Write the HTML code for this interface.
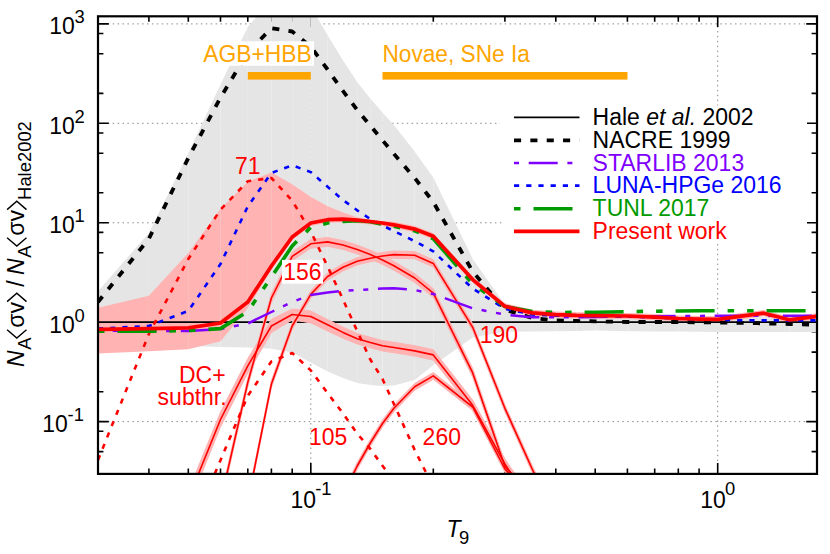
<!DOCTYPE html>
<html><head><meta charset="utf-8"><title>Rate ratio</title>
<style>html,body{margin:0;padding:0;background:#fff}svg{display:block}text{font-family:"Liberation Sans",sans-serif;}</style></head><body>
<svg width="830" height="554" viewBox="0 0 830 554">
<rect width="830" height="554" fill="#fff"/>
<defs><clipPath id="c"><rect x="98.0" y="16.3" width="719.0" height="457.6"/></clipPath></defs>
<g stroke="#8c8c8c" stroke-width="1" stroke-dasharray="1.5,3.4" fill="none">
<path d="M98.0,23.9 H817.0"/>
<path d="M98.0,123.3 H500"/>
<path d="M98.0,222.8 H817.0"/>
<path d="M98.0,421.6 H817.0"/>
<path d="M310.8,16.3 V473.9"/>
<path d="M717.7,16.3 V106"/>
<path d="M717.7,244 V473.9"/>
</g>
<g stroke="#000" stroke-width="1.6" fill="none">
<path d="M98.0,451.6 h5.4 M817.0,451.6 h-5.4"/>
<path d="M98.0,431.3 h5.4 M817.0,431.3 h-5.4"/>
<path d="M98.0,421.6 h10.8 M817.0,421.6 h-10.8"/>
<path d="M98.0,391.7 h5.4 M817.0,391.7 h-5.4"/>
<path d="M98.0,352.1 h5.4 M817.0,352.1 h-5.4"/>
<path d="M98.0,331.8 h5.4 M817.0,331.8 h-5.4"/>
<path d="M98.0,322.2 h10.8 M817.0,322.2 h-10.8"/>
<path d="M98.0,292.3 h5.4 M817.0,292.3 h-5.4"/>
<path d="M98.0,252.7 h5.4 M817.0,252.7 h-5.4"/>
<path d="M98.0,232.4 h5.4 M817.0,232.4 h-5.4"/>
<path d="M98.0,222.8 h10.8 M817.0,222.8 h-10.8"/>
<path d="M98.0,192.8 h5.4 M817.0,192.8 h-5.4"/>
<path d="M98.0,153.3 h5.4 M817.0,153.3 h-5.4"/>
<path d="M98.0,133.0 h5.4 M817.0,133.0 h-5.4"/>
<path d="M98.0,123.3 h10.8 M817.0,123.3 h-10.8"/>
<path d="M98.0,93.4 h5.4 M817.0,93.4 h-5.4"/>
<path d="M98.0,53.8 h5.4 M817.0,53.8 h-5.4"/>
<path d="M98.0,33.5 h5.4 M817.0,33.5 h-5.4"/>
<path d="M98.0,23.9 h10.8 M817.0,23.9 h-10.8"/>
<path d="M148.9,473.9 v-5.4 M148.9,16.3 v5.4"/>
<path d="M188.3,473.9 v-5.4 M188.3,16.3 v5.4"/>
<path d="M220.5,473.9 v-5.4 M220.5,16.3 v5.4"/>
<path d="M247.8,473.9 v-5.4 M247.8,16.3 v5.4"/>
<path d="M271.4,473.9 v-5.4 M271.4,16.3 v5.4"/>
<path d="M292.2,473.9 v-5.4 M292.2,16.3 v5.4"/>
<path d="M310.8,473.9 v-10.8 M310.8,16.3 v10.8"/>
<path d="M433.3,473.9 v-5.4 M433.3,16.3 v5.4"/>
<path d="M504.9,473.9 v-5.4 M504.9,16.3 v5.4"/>
<path d="M555.8,473.9 v-5.4 M555.8,16.3 v5.4"/>
<path d="M595.2,473.9 v-5.4 M595.2,16.3 v5.4"/>
<path d="M627.4,473.9 v-5.4 M627.4,16.3 v5.4"/>
<path d="M654.7,473.9 v-5.4 M654.7,16.3 v5.4"/>
<path d="M678.3,473.9 v-5.4 M678.3,16.3 v5.4"/>
<path d="M699.1,473.9 v-5.4 M699.1,16.3 v5.4"/>
<path d="M717.7,473.9 v-10.8 M717.7,16.3 v10.8"/>
</g>
<g clip-path="url(#c)">
<path d="M98.04,291.2 L148.88,233.0 L148.88,346.0 L98.04,346.0 Z" fill="#e5e5e5"/>
<path d="M148.88,233.0 L188.31,153.0 L188.31,346.0 L148.88,346.0 Z" fill="#e5e5e5"/>
<path d="M188.31,153.0 L220.53,84.5 L220.53,347.0 L188.31,346.0 Z" fill="#e5e5e5"/>
<path d="M220.53,84.5 L247.77,27.0 L247.77,347.5 L220.53,347.0 Z" fill="#e5e5e5"/>
<path d="M247.77,27.0 L271.37,0.0 L271.37,348.8 L247.77,347.5 Z" fill="#e5e5e5"/>
<path d="M271.37,0.0 L292.18,-5.0 L292.18,352.6 L271.37,348.8 Z" fill="#e5e5e5"/>
<path d="M292.18,-5.0 L310.80,6.4 L310.80,362.5 L292.18,352.6 Z" fill="#e5e5e5"/>
<path d="M310.80,6.4 L327.64,35.3 L327.64,371.5 L310.80,362.5 Z" fill="#e5e5e5"/>
<path d="M327.64,35.3 L343.02,60.6 L343.02,378.0 L327.64,371.5 Z" fill="#e5e5e5"/>
<path d="M343.02,60.6 L357.16,82.0 L357.16,383.0 L343.02,378.0 Z" fill="#e5e5e5"/>
<path d="M357.16,82.0 L370.26,98.6 L370.26,385.0 L357.16,383.0 Z" fill="#e5e5e5"/>
<path d="M370.26,98.6 L382.45,112.5 L382.45,386.0 L370.26,385.0 Z" fill="#e5e5e5"/>
<path d="M382.45,112.5 L393.86,125.0 L393.86,385.5 L382.45,386.0 Z" fill="#e5e5e5"/>
<path d="M393.86,125.0 L414.67,151.5 L414.67,380.0 L393.86,385.5 Z" fill="#e5e5e5"/>
<path d="M414.67,151.5 L433.29,177.4 L433.29,365.3 L414.67,380.0 Z" fill="#e5e5e5"/>
<path d="M433.29,177.4 L472.72,259.0 L472.72,337.4 L433.29,365.3 Z" fill="#e5e5e5"/>
<path d="M472.72,259.0 L504.94,304.5 L504.94,331.6 L472.72,337.4 Z" fill="#e5e5e5"/>
<path d="M504.94,304.5 L532.18,313.0 L532.18,331.6 L504.94,331.6 Z" fill="#e5e5e5"/>
<path d="M532.18,313.0 L555.78,316.0 L555.78,331.2 L532.18,331.6 Z" fill="#e5e5e5"/>
<path d="M555.78,316.0 L576.59,317.0 L576.59,331.0 L555.78,331.2 Z" fill="#e5e5e5"/>
<path d="M576.59,317.0 L595.21,317.0 L595.21,330.6 L576.59,331.0 Z" fill="#e5e5e5"/>
<path d="M595.21,317.0 L627.43,317.0 L627.43,331.2 L595.21,330.6 Z" fill="#e5e5e5"/>
<path d="M627.43,317.0 L654.67,317.0 L654.67,331.5 L627.43,331.2 Z" fill="#e5e5e5"/>
<path d="M654.67,317.0 L678.27,317.0 L678.27,331.6 L654.67,331.5 Z" fill="#e5e5e5"/>
<path d="M678.27,317.0 L699.08,317.0 L699.08,331.8 L678.27,331.6 Z" fill="#e5e5e5"/>
<path d="M699.08,317.0 L717.70,317.0 L717.70,331.9 L699.08,331.8 Z" fill="#e5e5e5"/>
<path d="M717.70,317.0 L757.13,317.0 L757.13,332.0 L717.70,331.9 Z" fill="#e5e5e5"/>
<path d="M757.13,317.0 L789.35,317.0 L789.35,332.0 L757.13,332.0 Z" fill="#e5e5e5"/>
<path d="M789.35,317.0 L816.59,317.0 L816.59,332.0 L789.35,332.0 Z" fill="#e5e5e5"/>
<path d="M98.04,307.8 L148.88,295.7 L148.88,351.3 L98.04,353.4 Z" fill="#ffb3b3"/>
<path d="M148.88,295.7 L188.31,253.0 L188.31,349.3 L148.88,351.3 Z" fill="#ffb3b3"/>
<path d="M188.31,253.0 L220.53,208.8 L220.53,341.2 L188.31,349.3 Z" fill="#ffb3b3"/>
<path d="M220.53,208.8 L247.77,181.7 L247.77,308.0 L220.53,341.2 Z" fill="#ffb3b3"/>
<path d="M247.77,181.7 L271.37,172.4 L271.37,270.0 L247.77,308.0 Z" fill="#ffb3b3"/>
<path d="M271.37,172.4 L292.18,184.3 L292.18,240.0 L271.37,270.0 Z" fill="#ffb3b3"/>
<path d="M292.18,184.3 L310.80,197.0 L310.80,226.0 L292.18,240.0 Z" fill="#ffb3b3"/>
<path d="M310.80,197.0 L327.64,206.3 L327.64,222.8 L310.80,226.0 Z" fill="#ffb3b3"/>
<path d="M327.64,206.3 L343.02,212.6 L343.02,222.3 L327.64,222.8 Z" fill="#ffb3b3"/>
<path d="M343.02,212.6 L357.16,217.2 L357.16,223.3 L343.02,222.3 Z" fill="#ffb3b3"/>
<path d="M357.16,217.2 L370.26,219.7 L370.26,224.6 L357.16,223.3 Z" fill="#ffb3b3"/>
<path d="M370.26,219.7 L382.45,221.3 L382.45,226.1 L370.26,224.6 Z" fill="#ffb3b3"/>
<path d="M382.45,221.3 L393.86,221.7 L393.86,227.9 L382.45,226.1 Z" fill="#ffb3b3"/>
<path d="M393.86,221.7 L414.67,226.0 L414.67,232.2 L393.86,227.9 Z" fill="#ffb3b3"/>
<path d="M414.67,226.0 L433.29,233.1 L433.29,239.3 L414.67,232.2 Z" fill="#ffb3b3"/>
<path d="M433.29,233.1 L472.72,276.5 L472.72,282.7 L433.29,239.3 Z" fill="#ffb3b3"/>
<path d="M472.72,276.5 L504.94,303.2 L504.94,309.4 L472.72,282.7 Z" fill="#ffb3b3"/>
<path d="M504.94,303.2 L532.18,309.8 L532.18,316.0 L504.94,309.4 Z" fill="#ffb3b3"/>
<path d="M532.18,309.8 L555.78,311.5 L555.78,317.7 L532.18,316.0 Z" fill="#ffb3b3"/>
<path d="M555.78,311.5 L576.59,312.3 L576.59,318.5 L555.78,317.7 Z" fill="#ffb3b3"/>
<path d="M576.59,312.3 L595.21,312.5 L595.21,318.7 L576.59,318.5 Z" fill="#ffb3b3"/>
<path d="M595.21,312.5 L627.43,312.9 L627.43,319.1 L595.21,318.7 Z" fill="#ffb3b3"/>
<path d="M627.43,312.9 L654.67,314.0 L654.67,320.2 L627.43,319.1 Z" fill="#ffb3b3"/>
<path d="M654.67,314.0 L678.27,315.4 L678.27,321.6 L654.67,320.2 Z" fill="#ffb3b3"/>
<path d="M678.27,315.4 L699.08,316.0 L699.08,322.2 L678.27,321.6 Z" fill="#ffb3b3"/>
<path d="M699.08,316.0 L717.70,316.2 L717.70,322.4 L699.08,322.2 Z" fill="#ffb3b3"/>
<path d="M717.70,316.2 L763.66,310.1 L763.66,316.3 L717.70,322.4 Z" fill="#ffb3b3"/>
<path d="M763.66,310.1 L789.35,316.7 L789.35,322.9 L763.66,316.3 Z" fill="#ffb3b3"/>
<path d="M789.35,316.7 L816.59,313.2 L816.59,319.4 L789.35,322.9 Z" fill="#ffb3b3"/>
</g>
<g clip-path="url(#c)" fill="none" stroke-linejoin="round">
<path d="M98.0,322.2 H817.0" stroke="#000" stroke-width="1.8"/>
<path d="M188.3,491.2 L220.5,412.1 L247.8,358.6 L271.4,319.4 L292.2,309.1 L310.8,311.1 L327.6,319.6 L343.0,327.2 L357.2,333.5 L370.3,337.3 L382.5,340.6 L393.9,342.3 L414.7,345.7 L433.3,349.7 L472.7,400.1 L504.9,458.8 L532.2,499.8 L532.2,510.2 L504.9,469.2 L472.7,410.5 L433.3,360.1 L414.7,356.1 L393.9,352.7 L382.5,351.0 L370.3,347.7 L357.2,343.9 L343.0,338.2 L327.6,331.0 L310.8,322.9 L292.2,319.9 L271.4,332.6 L247.8,373.0 L220.5,426.9 L188.3,506.8Z" fill="#ffb3b3" stroke="#ffb3b3" stroke-width="1.0"/>
<path d="M220.5,497.6 L247.8,378.0 L271.4,293.6 L292.2,252.0 L310.8,239.4 L327.6,237.5 L343.0,240.6 L357.2,245.1 L370.3,250.1 L382.5,255.6 L393.9,261.4 L414.7,273.6 L433.3,288.7 L472.7,368.5 L504.9,462.1 L532.2,491.6 L532.2,500.4 L504.9,470.9 L472.7,377.3 L433.3,297.5 L414.7,282.4 L393.9,270.2 L382.5,264.4 L370.3,258.9 L357.2,253.9 L343.0,249.4 L327.6,246.3 L310.8,248.2 L292.2,260.8 L271.4,302.4 L247.8,386.8 L220.5,506.4Z" fill="#ffb3b3" stroke="#ffb3b3" stroke-width="1.0"/>
<path d="M247.8,497.9 L271.4,380.4 L292.2,322.4 L310.8,290.8 L327.6,272.9 L343.0,263.7 L357.2,257.7 L370.3,254.6 L382.5,252.4 L393.9,251.0 L414.7,251.6 L433.3,259.8 L472.7,323.7 L504.9,404.7 L532.2,465.4 L555.8,516.4 L555.8,523.6 L532.2,472.6 L504.9,411.9 L472.7,330.9 L433.3,267.0 L414.7,258.8 L393.9,258.2 L382.5,259.6 L370.3,261.8 L357.2,264.9 L343.0,270.9 L327.6,280.1 L310.8,298.0 L292.2,329.6 L271.4,387.6 L247.8,505.1Z" fill="#ffb3b3" stroke="#ffb3b3" stroke-width="1.0"/>
<path d="M343.0,491.6 L357.2,462.6 L370.3,439.6 L382.5,420.1 L393.9,404.9 L414.7,383.4 L433.3,372.5 L472.7,403.6 L504.9,465.6 L532.2,496.6 L532.2,503.4 L504.9,472.4 L472.7,410.4 L433.3,379.3 L414.7,390.2 L393.9,411.7 L382.5,426.9 L370.3,446.4 L357.2,469.4 L343.0,498.4Z" fill="#ffb3b3" stroke="#ffb3b3" stroke-width="1.0"/>
<path d="M188.3,499.0 L220.5,419.5 L247.8,365.8 L271.4,326.0 L292.2,314.5 L310.8,316.5 L327.6,324.8 L343.0,332.4 L357.2,338.7 L370.3,342.5 L382.5,345.8 L393.9,347.5 L414.7,350.9 L433.3,354.9 L472.7,405.3 L504.9,464.0 L532.2,505.0" stroke="#f00" stroke-width="1.6"/>
<path d="M220.5,502.0 L247.8,382.4 L271.4,298.0 L292.2,256.4 L310.8,243.8 L327.6,241.9 L343.0,245.0 L357.2,249.5 L370.3,254.5 L382.5,260.0 L393.9,265.8 L414.7,278.0 L433.3,293.1 L472.7,372.9 L504.9,466.5 L532.2,496.0" stroke="#f00" stroke-width="1.6"/>
<path d="M247.8,501.5 L271.4,384.0 L292.2,326.0 L310.8,294.4 L327.6,276.5 L343.0,267.3 L357.2,261.3 L370.3,258.2 L382.5,256.0 L393.9,254.6 L414.7,255.2 L433.3,263.4 L472.7,327.3 L504.9,408.3 L532.2,469.0 L555.8,520.0" stroke="#f00" stroke-width="1.6"/>
<path d="M343.0,495.0 L357.2,466.0 L370.3,443.0 L382.5,423.5 L393.9,408.3 L414.7,386.8 L433.3,375.9 L472.7,407.0 L504.9,469.0 L532.2,500.0" stroke="#f00" stroke-width="1.6"/>
<path d="M98.0,460.0 L148.9,334.0 L188.3,259.0 L220.5,209.6 L247.8,181.2 L271.4,178.0 L292.2,200.7 L310.8,231.6 L327.6,266.5 L343.0,299.5 L357.2,331.0 L370.3,359.5 L382.5,379.0 L393.9,404.0 L414.7,450.0 L433.3,487.0" stroke="#f00" stroke-width="2.6" stroke-dasharray="5.2,7.0" stroke-dashoffset="0.0"/>
<path d="M188.3,537.0 L220.5,460.2 L247.8,395.7 L271.4,361.5 L292.2,353.0 L310.8,370.4 L327.6,393.1 L343.0,413.4 L357.2,433.6 L370.3,448.8 L382.5,465.8 L393.9,481.0" stroke="#f00" stroke-width="2.6" stroke-dasharray="5.2,7.0" stroke-dashoffset="4.7"/>
<path d="M98.0,302.0 L148.9,238.7 L188.3,158.0 L220.5,97.6 L247.8,52.5 L271.4,28.2 L292.2,31.5 L310.8,46.7 L327.6,69.5 L343.0,91.0 L357.2,110.0 L370.3,125.6 L382.5,140.3 L393.9,153.9 L414.7,178.0 L433.3,202.0 L472.7,271.6 L504.9,309.6 L532.2,318.0 L555.8,320.5 L576.6,321.0 L595.2,321.3 L627.4,322.0 L654.7,322.0 L678.3,322.0 L699.1,322.3 L717.7,322.5 L757.1,323.2 L789.4,324.0 L816.6,324.8" stroke="#000" stroke-width="3.8" stroke-dasharray="7.1,9.25"/>
<path d="M98.0,330.6 L148.9,331.0 L188.3,331.0 L220.5,329.0 L247.8,323.5 L271.4,312.0 L292.2,302.0 L310.8,295.0 L327.6,292.4 L343.0,291.0 L357.2,290.0 L370.3,289.3 L382.5,288.6 L393.9,288.2 L414.7,290.0 L433.3,294.0 L472.7,308.3 L504.9,314.6 L532.2,317.2 L555.8,317.3 L576.6,317.2 L595.2,317.0 L627.4,316.5 L654.7,316.2 L678.3,316.0 L699.1,315.9 L717.7,315.8 L757.1,315.8 L789.4,315.8 L816.6,315.8" stroke="#8000ff" stroke-width="2.5" stroke-dasharray="29,9.7,5,9.7,5,9.7" stroke-dashoffset="53.4"/>
<path d="M98.0,328.6 L148.9,326.0 L188.3,310.9 L220.5,264.0 L247.8,206.3 L271.4,172.9 L292.2,165.3 L310.8,172.1 L327.6,186.8 L343.0,200.0 L357.2,210.3 L370.3,219.0 L382.5,225.5 L393.9,231.0 L414.7,241.2 L433.3,251.4 L472.7,288.6 L504.9,308.8 L532.2,314.5 L555.8,315.6 L576.6,316.0 L595.2,316.2 L627.4,316.5 L654.7,317.5 L678.3,318.8 L699.1,319.4 L717.7,319.8 L757.1,320.4 L789.4,320.4 L816.6,320.4" stroke="#00f" stroke-width="2.6" stroke-dasharray="5.2,7.0"/>
<path d="M98.0,331.3 L148.9,331.3 L188.3,330.6 L220.5,328.6 L247.8,311.5 L271.4,277.0 L292.2,246.0 L310.8,227.3 L327.6,223.0 L343.0,221.5 L357.2,220.7 L370.3,221.7 L382.5,224.2 L393.9,226.3 L414.7,230.8 L433.3,238.7 L472.7,284.0 L504.9,306.5 L532.2,311.5 L555.8,312.5 L576.6,312.4 L595.2,312.3 L627.4,311.6 L654.7,311.2 L678.3,311.0 L699.1,310.8 L717.7,310.7 L757.1,310.7 L789.4,310.7 L816.6,310.7" stroke="#009b00" stroke-width="3.6" stroke-dasharray="39,13,6.5,13,6.5,13" stroke-dashoffset="71.5"/>
<path d="M98.0,329.3 L148.9,328.6 L188.3,327.8 L220.5,323.0 L247.8,302.0 L271.4,266.0 L292.2,237.0 L310.8,223.0 L327.6,219.7 L343.0,219.2 L357.2,220.2 L370.3,221.5 L382.5,223.0 L393.9,224.8 L414.7,229.1 L433.3,236.2 L472.7,279.6 L504.9,306.3 L532.2,312.9 L555.8,314.6 L576.6,315.4 L595.2,315.6 L627.4,316.0 L654.7,317.1 L678.3,318.5 L699.1,319.1 L717.7,319.3 L763.7,313.2 L789.4,319.8 L816.6,316.3" stroke="#f00" stroke-width="3.7"/>
</g>
<rect x="203" y="41.3" width="111" height="24.4" fill="#fff"/>
<rect x="247.8" y="72" width="63.0" height="7.6" fill="#ffa500"/>
<rect x="382.5" y="72" width="245.0" height="7.6" fill="#ffa500"/>
<text transform="translate(203.3,62.2) scale(0.985,1)" font-size="23.19" fill="#ffa500">AGB+HBB</text>
<text transform="translate(382.4,62.2) scale(0.985,1)" font-size="23.04" fill="#ffa500">Novae, SNe Ia</text>
<rect x="503" y="105.5" width="304" height="138" fill="#fff"/>
<g fill="none">
<path d="M514,117.4 H579.5" stroke="#000" stroke-width="1.8"/>
<path d="M514,140.3 H579.5" stroke="#000" stroke-width="3.8" stroke-dasharray="7.1,9.25"/>
<path d="M514,163.0 H579.5" stroke="#8000ff" stroke-width="2.5" stroke-dasharray="29,9.7,5,9.7,5,9.7" stroke-dashoffset="53.4"/>
<path d="M514,185.6 H579.5" stroke="#00f" stroke-width="2.6" stroke-dasharray="5.2,7.0"/>
<path d="M514,208.7 H579.5" stroke="#009b00" stroke-width="3.6" stroke-dasharray="39,13,6.5,13,6.5,13" stroke-dashoffset="71.5"/>
<path d="M514,231.4 H579.5" stroke="#f00" stroke-width="3.7"/>
</g>
<text transform="translate(592.6,125.2) scale(0.985,1)" font-size="23.34" fill="#000">Hale <tspan font-style="italic">et al.</tspan> 2002</text>
<text transform="translate(592.6,148.1) scale(0.985,1)" font-size="23.34" fill="#000">NACRE 1999</text>
<text transform="translate(592.6,170.6) scale(0.985,1)" font-size="23.34" fill="#8000ff">STARLIB 2013</text>
<text transform="translate(592.6,193.2) scale(0.985,1)" font-size="23.34" fill="#00f">LUNA-HPGe 2016</text>
<text transform="translate(592.6,216.1) scale(0.985,1)" font-size="23.34" fill="#009b00">TUNL 2017</text>
<text transform="translate(592.6,238.8) scale(0.985,1)" font-size="23.34" fill="#f00">Present work</text>
<rect x="282" y="259.9" width="41" height="23.8" fill="#fff"/>
<text transform="translate(234.9,174.2) scale(0.985,1)" font-size="23.34" fill="#f00" text-anchor="start">71</text>
<text transform="translate(283.2,279.9) scale(0.985,1)" font-size="23.34" fill="#f00" text-anchor="start">156</text>
<text transform="translate(479.8,343.3) scale(0.985,1)" font-size="23.34" fill="#f00" text-anchor="start">190</text>
<text transform="translate(308.9,445.3) scale(0.985,1)" font-size="23.34" fill="#f00" text-anchor="start">105</text>
<text transform="translate(422.6,445.3) scale(0.985,1)" font-size="23.34" fill="#f00" text-anchor="start">260</text>
<text transform="translate(225.6,383.0) scale(0.985,1)" font-size="23.34" fill="#f00" text-anchor="end">DC+</text>
<text transform="translate(226.6,404.5) scale(0.985,1)" font-size="23.34" fill="#f00" text-anchor="end">subthr.</text>
<g stroke="#000" stroke-width="2.2" fill="none">
<rect x="98.0" y="16.3" width="719.0" height="457.6"/>
</g>
<text transform="translate(74.9,34.4) scale(0.985,1)" font-size="23.34" text-anchor="end">10</text>
<text transform="translate(74.6,23.2) scale(0.985,1)" font-size="18.68">3</text>
<text transform="translate(74.9,133.8) scale(0.985,1)" font-size="23.34" text-anchor="end">10</text>
<text transform="translate(74.6,122.6) scale(0.985,1)" font-size="18.68">2</text>
<text transform="translate(74.9,233.3) scale(0.985,1)" font-size="23.34" text-anchor="end">10</text>
<text transform="translate(74.6,222.1) scale(0.985,1)" font-size="18.68">1</text>
<text transform="translate(74.9,332.7) scale(0.985,1)" font-size="23.34" text-anchor="end">10</text>
<text transform="translate(74.6,321.5) scale(0.985,1)" font-size="18.68">0</text>
<text transform="translate(67.9,432.1) scale(0.985,1)" font-size="23.34" text-anchor="end">10</text>
<text transform="translate(67.6,420.9) scale(0.985,1)" font-size="18.68">-1</text>
<text transform="translate(290.4,507.5) scale(0.985,1)" font-size="23.34">10</text>
<text transform="translate(315.2,495.3) scale(0.985,1)" font-size="18.68">-1</text>
<text transform="translate(700.2,507.5) scale(0.985,1)" font-size="23.34">10</text>
<text transform="translate(725.1,495.3) scale(0.985,1)" font-size="18.68">0</text>
<text transform="translate(446.6,536.8) scale(0.985,1)" font-size="23.34" font-style="italic">T</text>
<text transform="translate(459.0,543.7) scale(0.985,1)" font-size="18.68">9</text>
<g transform="translate(24.3,366.4) rotate(-90)">
<text transform="translate(-0.5,0.0) scale(0.985,1)" font-size="23.34" font-style="italic">N</text>
<text transform="translate(16.6,6.8) scale(0.985,1)" font-size="18.68">A</text>
<path d="M36.7,-17.2 L28.3,-7.5 L36.7,2.2" fill="none" stroke="#000" stroke-width="1.4"/>
<text transform="translate(38.6,0.0) scale(0.985,1)" font-size="23.34">σv</text>
<path d="M64.8,-17.2 L73.2,-7.5 L64.8,2.2" fill="none" stroke="#000" stroke-width="1.4"/>
<text transform="translate(79.6,0.0) scale(0.985,1)" font-size="23.34">/</text>
<text transform="translate(91.5,0.0) scale(0.985,1)" font-size="23.34" font-style="italic">N</text>
<text transform="translate(108.6,6.8) scale(0.985,1)" font-size="18.68">A</text>
<path d="M128.7,-17.2 L120.3,-7.5 L128.7,2.2" fill="none" stroke="#000" stroke-width="1.4"/>
<text transform="translate(130.6,0.0) scale(0.985,1)" font-size="23.34">σv</text>
<path d="M156.8,-17.2 L165.2,-7.5 L156.8,2.2" fill="none" stroke="#000" stroke-width="1.4"/>
<text transform="translate(166.5,6.8) scale(0.985,1)" font-size="18.68">Hale2002</text>
</g>
</svg></body></html>
